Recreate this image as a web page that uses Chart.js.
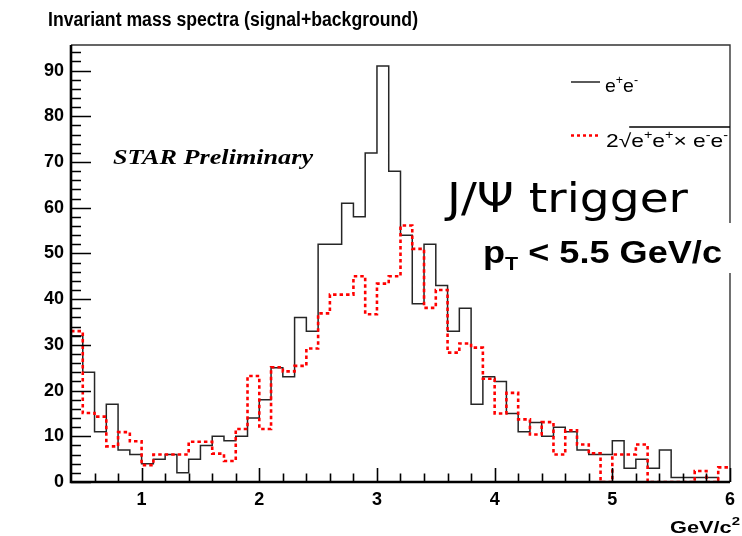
<!DOCTYPE html>
<html><head><meta charset="utf-8">
<script src="https://cdn.jsdelivr.net/npm/chart.js@4.4.1/dist/chart.umd.min.js"></script>
<style>html,body{margin:0;padding:0;background:#fff;overflow:hidden}#wrap{width:742px;height:536px;position:relative}</style>
</head><body><div id="wrap"><canvas id="c" width="742" height="536"></canvas></div>
<script>
// Bin lower edges (GeV/c^2), bin width 0.1
const binLowEdges = [0.4,0.5,0.6,0.7,0.8,0.9,1.0,1.1,1.2,1.3,1.4,1.5,1.6,1.7,1.8,1.9,2.0,2.1,2.2,2.3,2.4,2.5,2.6,2.7,2.8,2.9,3.0,3.1,3.2,3.3,3.4,3.5,3.6,3.7,3.8,3.9,4.0,4.1,4.2,4.3,4.4,4.5,4.6,4.7,4.8,4.9,5.0,5.1,5.2,5.3,5.4,5.5,5.6,5.7,5.8,5.9];
const lastUpperEdge = 6.0;
// Unlike-sign pairs e+e-
const unlikeSign = [32,24,11,17,7,6,4,5,6,2,5,8,10,9,10,14,18,25,23,36,33,52,52,61,58,72,91,68,54,39,52,43,33,38,17,23,22,15,11,13,10,12,11,7,6,6,9,3,5,3,7,1,1,1,1,0];
// Like-sign background 2*sqrt(N++ * N--)
const likeSign = [33,15.1,14.3,7.8,10.9,8.9,3.7,6.0,6.0,6.0,8.8,8.8,6.2,4.6,11.6,23.2,11.6,25.1,24.2,25.4,29.2,36.9,41.0,41.0,45.0,36.7,43.4,45.0,56.1,51.0,38.1,42.0,28.3,30.3,29.4,22.6,15.0,19.5,13.7,10.4,13.1,6.0,11.3,8.2,6.3,0,6.0,6.0,8.2,0,0,0,0,2.4,0,3.2];
const yTickValues = [0,10,20,30,40,50,60,70,80,90];
const xTickValues = [1,2,3,4,5,6];
const xRange = [0.4, 6.0];
const yRange = [0, 95.6];

function toSteps(vals){
  const pts = binLowEdges.map((x,i)=>({x:x, y:vals[i]}));
  pts.push({x:lastUpperEdge, y:vals[vals.length-1]});
  return pts;
}

const SANS = "'Liberation Sans', Arial, sans-serif";
const SERIF = "'Liberation Serif', 'Times New Roman', serif";

function drawRich(ctx, x, y, segs, targetWidth){
  let w = 0;
  segs.forEach(s=>{ctx.font = s.font; s.w = ctx.measureText(s.t).width; w += s.w;});
  const sx = targetWidth ? targetWidth / w : 1;
  const starts = [];
  ctx.save();
  ctx.translate(x, y);
  ctx.scale(sx, 1);
  let cx = 0;
  segs.forEach(s=>{ctx.font = s.font; ctx.fillText(s.t, cx, s.dy || 0); starts.push(x + cx*sx); cx += s.w;});
  ctx.restore();
  starts.push(x + cx*sx);
  return starts;
}

const decorPlugin = {
  id:'decor',
  afterDraw(chart){
    const ctx = chart.ctx;
    const a = chart.chartArea;
    const xs = chart.scales.x, ys = chart.scales.y;
    ctx.save();
    // frame top/right
    ctx.strokeStyle = '#333';
    ctx.lineWidth = 1.4;
    ctx.beginPath();
    ctx.moveTo(a.left, a.top); ctx.lineTo(a.right, a.top); ctx.lineTo(a.right, a.bottom);
    ctx.stroke();
    // axes
    ctx.strokeStyle = '#000';
    ctx.lineWidth = 2.6;
    ctx.beginPath();
    ctx.moveTo(a.left, a.top); ctx.lineTo(a.left, a.bottom + 1.3);
    ctx.moveTo(a.left - 1.3, a.bottom); ctx.lineTo(a.right, a.bottom);
    ctx.stroke();
    // y ticks (inside)
    ctx.lineWidth = 1.6;
    ctx.beginPath();
    for (let v = 0; v <= yRange[1]; v += 2){
      const yp = Math.round(ys.getPixelForValue(v)) + 0.5;
      const len = (v % 10 === 0) ? 20 : 10;
      ctx.moveTo(a.left, yp); ctx.lineTo(a.left + len, yp);
    }
    ctx.stroke();
    // x ticks (inside)
    ctx.beginPath();
    for (let k = 3; k <= 30; k++){
      const v = k * 0.2;
      const xp = Math.round(xs.getPixelForValue(v)) + 0.5;
      const len = (k % 5 === 0) ? 14 : 8.5;
      ctx.moveTo(xp, a.bottom); ctx.lineTo(xp, a.bottom - len);
    }
    ctx.stroke();

    ctx.fillStyle = '#000';
    ctx.textBaseline = 'alphabetic';
    ctx.textAlign = 'left';
    // Title
    drawRich(ctx, 48, 26, [{t:'Invariant mass spectra (signal+background)', font:'bold 20px '+SANS}], 370);
    // STAR Preliminary
    drawRich(ctx, 113, 164, [{t:'STAR Preliminary', font:'italic bold 21px '+SERIF}], 200);
    // J/Psi trigger
    drawRich(ctx, 447, 212, [{t:'J/\u03A8 trigger', font:'41px "DejaVu Sans", sans-serif'}], 241);
    // pT box
    ctx.fillStyle = '#fff';
    ctx.fillRect(470, 223, 272, 50);
    ctx.fillStyle = '#000';
    drawRich(ctx, 483, 263, [
      {t:'p', font:'bold 32px '+SANS},
      {t:'T', font:'bold 19px '+SANS, dy:7},
      {t:' < 5.5 GeV/c', font:'bold 32px '+SANS}
    ], 239);

    // Legend
    ctx.strokeStyle = '#000';
    ctx.lineWidth = 1.3;
    ctx.setLineDash([]);
    ctx.beginPath(); ctx.moveTo(571, 82); ctx.lineTo(600, 82); ctx.stroke();
    drawRich(ctx, 605, 91.5, [
      {t:'e', font:'19px '+SANS},
      {t:'+', font:'12px '+SANS, dy:-8},
      {t:'e', font:'19px '+SANS},
      {t:'-', font:'12px '+SANS, dy:-8}
    ], 33);
    ctx.strokeStyle = '#ff0000';
    ctx.lineWidth = 2.5;
    ctx.setLineDash([3,3]);
    ctx.beginPath(); ctx.moveTo(571, 135.5); ctx.lineTo(598, 135.5); ctx.stroke();
    ctx.setLineDash([]);
    const st = drawRich(ctx, 606, 147, [
      {t:'2', font:'19px '+SANS},
      {t:'\u221A', font:'19px '+SANS},
      {t:'e', font:'19px '+SANS},
      {t:'+', font:'12px '+SANS, dy:-8},
      {t:'e', font:'19px '+SANS},
      {t:'+', font:'12px '+SANS, dy:-8},
      {t:'\u00D7 e', font:'19px '+SANS},
      {t:'-', font:'12px '+SANS, dy:-8},
      {t:'e', font:'19px '+SANS},
      {t:'-', font:'12px '+SANS, dy:-8}
    ], 122);
    ctx.strokeStyle = '#000';
    ctx.lineWidth = 1.3;
    ctx.beginPath(); ctx.moveTo(st[2] - 2, 127); ctx.lineTo(st[st.length-1] + 2, 127); ctx.stroke();

    // x axis title
    drawRich(ctx, 670, 533, [
      {t:'GeV/c', font:'bold 16px '+SANS},
      {t:'2', font:'bold 11px '+SANS, dy:-8}
    ], 70);
    ctx.restore();
  }
};

const tickFont = {family:SANS, size:18, weight:'bold'};

new Chart(document.getElementById('c').getContext('2d'), {
  type:'line',
  data:{datasets:[
    {label:'2\u221A(e+e+ \u00D7 e-e-)', data:toSteps(likeSign), borderColor:'#ff0000', borderWidth:2.6, borderDash:[3.5,3], stepped:'before', pointRadius:0, fill:false, tension:0, order:0},
    {label:'e+e-', data:toSteps(unlikeSign), borderColor:'#262626', borderWidth:1.5, stepped:'before', pointRadius:0, fill:false, tension:0, order:1}
  ]},
  options:{
    responsive:false,
    animation:false,
    events:[],
    layout:{padding:{top:45, right:7, bottom:0, left:0}},
    plugins:{legend:{display:false}, tooltip:{enabled:false}, title:{display:false}},
    scales:{
      x:{type:'linear', min:xRange[0], max:xRange[1],
         afterBuildTicks:s=>{s.ticks = xTickValues.map(v=>({value:v}));},
         afterFit:s=>{s.height = 54;},
         grid:{display:false, drawTicks:false}, border:{display:false},
         ticks:{padding:7, font:tickFont, color:'#000', maxRotation:0, autoSkip:false}},
      y:{type:'linear', min:yRange[0], max:yRange[1],
         afterBuildTicks:s=>{s.ticks = yTickValues.map(v=>({value:v}));},
         afterFit:s=>{s.width = 71;},
         grid:{display:false, drawTicks:false}, border:{display:false},
         ticks:{padding:7, font:tickFont, color:'#000', autoSkip:false}}
    }
  },
  plugins:[decorPlugin]
});
</script></body></html>
